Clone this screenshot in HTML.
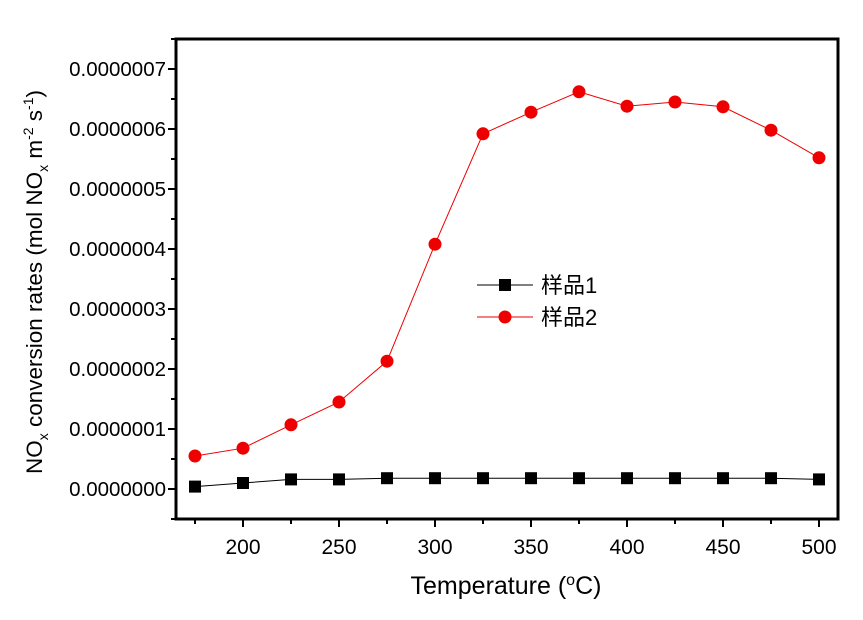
<!DOCTYPE html>
<html><head><meta charset="utf-8"><style>
body{margin:0;background:#fff}
svg{display:block;font-family:"Liberation Sans","Noto Sans CJK SC",sans-serif}
</style></head><body>
<svg id="chart" width="863" height="620"></svg>
<script>
const categories=[175,200,225,250,275,300,325,350,375,400,425,450,475,500];
const sample1=[0.04,0.10,0.16,0.16,0.18,0.18,0.18,0.18,0.18,0.18,0.18,0.18,0.18,0.16];
const sample2=[0.55,0.68,1.07,1.45,2.13,4.08,5.92,6.28,6.62,6.38,6.45,6.37,5.98,5.52];
const xTicks=[200,250,300,350,400,450,500];
const xMinor=[175,225,275,325,375,425,475];
const yTicks=[0,1,2,3,4,5,6,7];
const yLabels=["0.0000000","0.0000001","0.0000002","0.0000003","0.0000004","0.0000005","0.0000006","0.0000007"];
const NS="http://www.w3.org/2000/svg";
const svg=document.getElementById('chart');
const X=v=>195+(v-175)*48/25;
const Y=v=>489-v*60;
function mk(t,a,p){const e=document.createElementNS(NS,t);for(const k in a)e.setAttribute(k,a[k]);(p||svg).appendChild(e);return e;}
const frame=mk('rect',{x:176,y:39,width:662,height:480,fill:'none',stroke:'#000','stroke-width':3});


yTicks.forEach((t,i)=>{
  mk('line',{x1:168,x2:176,y1:Y(t),y2:Y(t),stroke:'#000','stroke-width':2});
  mk('line',{x1:171,x2:176,y1:Y(t+0.5),y2:Y(t+0.5),stroke:'#000','stroke-width':2});
  const tx=mk('text',{x:166,y:Y(t)+7,'text-anchor':'end','font-size':20.5});
  tx.textContent=yLabels[i];
  
  
});
mk('line',{x1:171,x2:176,y1:Y(-0.5),y2:Y(-0.5),stroke:'#000','stroke-width':2});
xTicks.forEach(t=>{
  mk('line',{x1:X(t),x2:X(t),y1:519,y2:527,stroke:'#000','stroke-width':2});
  const tx=mk('text',{x:X(t),y:554,'text-anchor':'middle','font-size':21});
  tx.textContent=t;
  
  
});
xMinor.forEach(t=>mk('line',{x1:X(t),x2:X(t),y1:519,y2:524,stroke:'#000','stroke-width':2}));
function series(vals,color,marker,name){
  const g=mk('g',{});
  
  
  mk('polyline',{points:vals.map((v,i)=>X(categories[i])+','+Y(v)).join(' '),fill:'none',stroke:color,'stroke-width':1},g);
  vals.forEach((v,i)=>{
    let m;
    if(marker==='sq')m=mk('rect',{x:X(categories[i])-6,y:Y(v)-6,width:12,height:12,fill:color},g);
    else m=mk('circle',{cx:X(categories[i]),cy:Y(v),r:6.5,fill:color},g);
    
    
  });
}
series(sample1,'#000','sq','series-sample1');
series(sample2,'#ee0000','c','series-sample2');
const lg=mk('g',{});


mk('line',{x1:477,x2:533,y1:285,y2:285,stroke:'#000','stroke-width':1},lg);
mk('rect',{x:499,y:279,width:12,height:12,fill:'#000'},lg);
let t1=mk('text',{x:541,y:293,'font-size':22},lg);t1.textContent='样品1';


mk('line',{x1:477,x2:533,y1:317,y2:317,stroke:'#ee0000','stroke-width':1},lg);
mk('circle',{cx:505,cy:317,r:6.5,fill:'#ee0000'},lg);
let t2=mk('text',{x:541,y:325,'font-size':22},lg);t2.textContent='样品2';


</script>
<div style="position:absolute;left:0;top:0;width:863px;height:620px;pointer-events:none">
<svg width="863" height="620" style="font-family:'Liberation Sans',sans-serif">
<text x="506" y="594" text-anchor="middle" font-size="25">Temperature (<tspan dy="-9" font-size="16">o</tspan><tspan dy="9">C)</tspan></text>
<text transform="translate(42,282) rotate(-90)" text-anchor="middle" font-size="22.5">NO<tspan dy="6" font-size="14">x</tspan><tspan dy="-6"> conversion rates (mol NO</tspan><tspan dy="6" font-size="14">x</tspan><tspan dy="-6"> m</tspan><tspan dy="-9" font-size="14">-2</tspan><tspan dy="9"> s</tspan><tspan dy="-9" font-size="14">-1</tspan><tspan dy="9">)</tspan></text>
</svg></div>
</body></html>
